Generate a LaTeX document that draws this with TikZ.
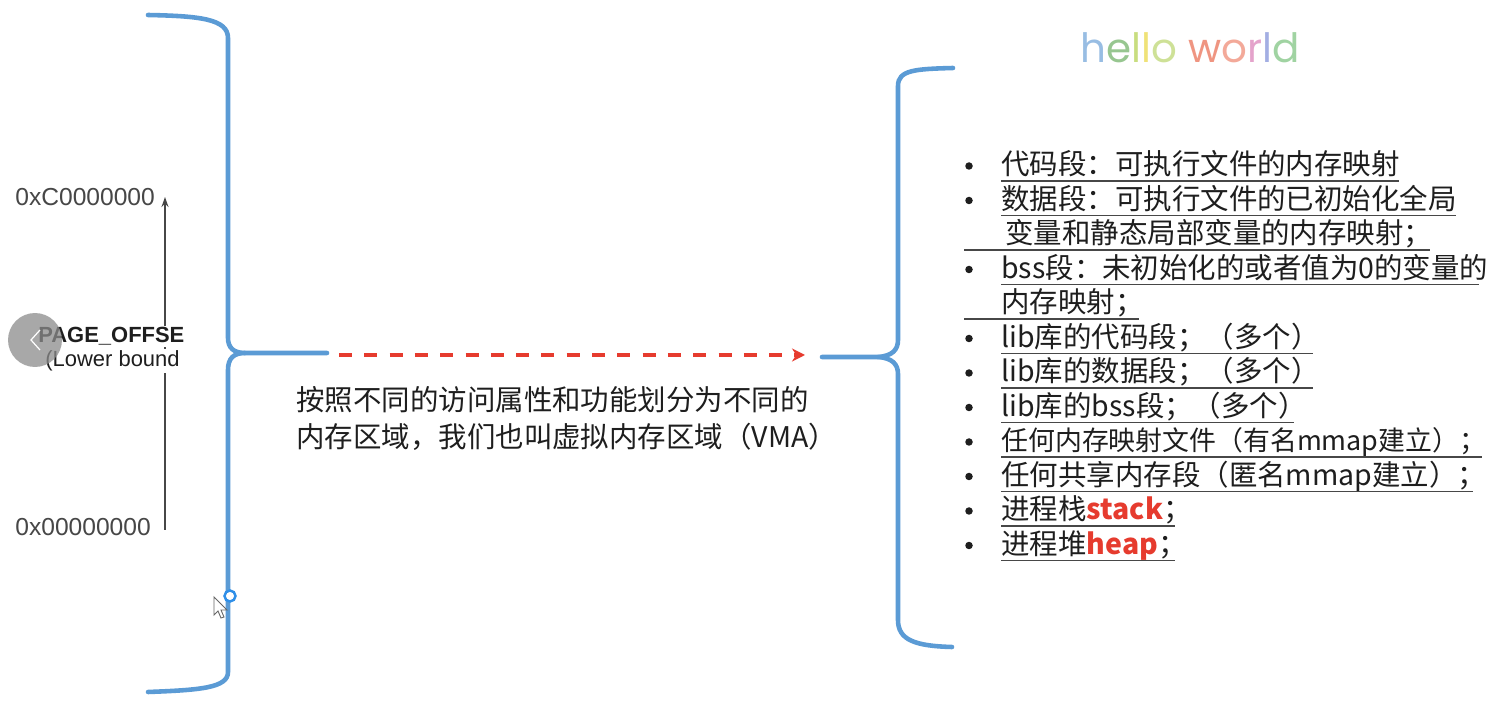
\documentclass[tikz,border=0pt]{standalone}
\usepackage{fontspec}
\setmainfont{Noto Sans CJK SC}
\newfontfamily\latinsans{Liberation Sans}
\newfontfamily\roundsans{Poppins}
\usepackage{xcolor}
\usetikzlibrary{arrows.meta,positioning}
\definecolor{ink}{HTML}{1E1E1E}
\definecolor{muted}{HTML}{474747}
\definecolor{brace}{HTML}{5B9BD5}
\definecolor{redline}{HTML}{E63B2E}
\definecolor{handle}{HTML}{2F8FE8}
\definecolor{hA}{HTML}{8DB6E0}
\definecolor{hB}{HTML}{8CC084}
\definecolor{hC}{HTML}{C3DA72}
\definecolor{hD}{HTML}{EEDF6A}
\definecolor{hE}{HTML}{C9DE8C}
\definecolor{hF}{HTML}{EE8A74}
\definecolor{hG}{HTML}{F2A08E}
\definecolor{hH}{HTML}{E29AC6}
\definecolor{hI}{HTML}{9AA6E0}
\definecolor{hJ}{HTML}{96CF98}
\tikzset{
  bracepath/.style={draw=brace, line width=2.6pt, line cap=round, line join=round},
  dashflow/.style={-{Stealth[length=2.6mm,width=2.6mm]}, draw=redline, line width=2.1pt,
    dash pattern=on 7.4pt off 7pt},
  axis/.style={-{Stealth[length=2mm,width=1.4mm]}, draw=muted, line width=.8pt},
  addr/.style={font=\latinsans\fontsize{14}{16}\selectfont, text=muted, inner sep=0pt, anchor=base west},
  bound/.style={font=\latinsans\bfseries\fontsize{12.5}{14}\selectfont, text=ink, fill=white,
    inner xsep=0pt, inner ysep=1pt, anchor=base west},
  item/.style={font=\fontsize{16.2}{19}\selectfont, text=ink, inner sep=0pt, anchor=base west},
  dotmark/.style={circle, fill=ink, minimum size=1.5mm, inner sep=0pt},
  uline/.style={draw=muted, line width=1.1pt}
}

\begin{document}
\begin{tikzpicture}[x=0.02cm,y=-0.02cm]
  \useasboundingbox[fill=white] (0,0) rectangle (1492,702);

  % address axis
  \coordinate (alo) at (165,530);
  \coordinate (ahi) at (165,197);
  \draw[axis] (alo) -- (ahi);
  \node[addr] (top) at (15,206) {0xC0000000};
  \node[addr] (bot) at (15,536) {0x00000000};
  \node[bound] (po) at (38,343) {PAGE\_OFFSE};
  \node[bound,font=\latinsans\fontsize{12.5}{14}\selectfont] (lb) at (45,367) {(Lower bound};

  % left brace
  \draw[bracepath] (148,15) .. controls (200,16) and (228,19) .. (228,38) -- (228,338)
    .. controls (228,348) and (234,353) .. (245,353) -- (327,353);
  \draw[bracepath] (245,353) .. controls (234,353) and (228,358) .. (228,370) -- (228,672)
    .. controls (228,688) and (200,690) .. (148,692);

  % right brace
  \draw[bracepath] (953,68) .. controls (915,69) and (898,70) .. (898,86) -- (898,340)
    .. controls (898,350) and (892,356) .. (878,357) -- (822,357);
  \draw[bracepath] (878,357) .. controls (892,358) and (898,364) .. (898,374) -- (898,620)
    .. controls (898,640) and (915,646) .. (952,647);

  \coordinate (ds) at (339,355);
  \coordinate (dt) at (805,355);
  \draw[dashflow] (ds) -- (dt);

  \node[item] (vma1) at (296,411) {按照不同的访问属性和功能划分为不同的};
  \node[item] (vma2) at (296,448) {内存区域，我们也叫虚拟内存区域（VMA）};

  \node[font=\roundsans\fontsize{23}{26}\selectfont, opacity=.9] (hello) at (1190,48)
    {\textcolor{hA}{h}\textcolor{hB}{e}\textcolor{hC}{l}\textcolor{hD}{l}\textcolor{hE}{o}
     \textcolor{hF}{w}\textcolor{hG}{o}\textcolor{hH}{r}\textcolor{hI}{l}\textcolor{hJ}{d}};

  % segment list
  \node[item] (l1) at (1001,175) {代码段：可执行文件的内存映射};
  \node[item] (l2) at (1001,209.5) {数据段：可执行文件的已初始化全局};
  \node[item] (l3) at (1005,244) {变量和静态局部变量的内存映射；};
  \node[item] (l4) at (1001,278.5) {bss段：未初始化的或者值为0的变量的};
  \node[item] (l5) at (1001,313) {内存映射；};
  \node[item] (l6) at (1001,347.5) {lib库的代码段；（多个）};
  \node[item] (l7) at (1001,382) {lib库的数据段；（多个）};
  \node[item] (l8) at (1001,416.5) {lib库的bss段；（多个）};
  \node[item,font=\fontsize{15.3}{19}\selectfont] (l9) at (1001,451) {任何内存映射文件（有名mmap建立）；};
  \node[item] (l10) at (1001,485.5) {任何共享内存段（匿名mmap建立）；};
  \node[item] (l11) at (1001,520) {进程栈{\bfseries\color{redline}stack}；};
  \node[item] (l12) at (1001,554.5) {进程堆{\bfseries\color{redline}heap}；};

  \foreach \yy/\xa/\xb in {181/1001/1399, 215.5/1001/1456, 250/964/1430, 284.5/1001/1479,
      319/964/1139, 353.5/1001/1313, 388/1001/1313, 422.5/1001/1294, 457/1001/1482,
      491.5/1001/1473, 526/1001/1175, 560.5/1001/1175}
    \draw[uline] (\xa,\yy) -- (\xb,\yy);

  \foreach \yy in {166, 200.5, 269.5, 338.5, 373, 407.5, 442, 476.5, 511, 545.5}
    \node[dotmark] at (969,\yy) {};

  % screen overlay
  \node[circle, fill=black!45, opacity=.75, minimum size=1.08cm, inner sep=0pt] (nav) at (35,340) {};
  \draw[white, line width=.7pt] (40,330) -- (31,340) -- (40,350);
  \node[circle, draw=handle, fill=white, line width=1.4pt, minimum size=.22cm, inner sep=0pt] (grip) at (230,596) {};
  \draw[fill=white, draw=black!60, line width=.5pt] (214,597) -- (214,615) -- (218,611) -- (221,618)
    -- (224,617) -- (221,610) -- (227,610) -- cycle;
\end{tikzpicture}
\end{document}
